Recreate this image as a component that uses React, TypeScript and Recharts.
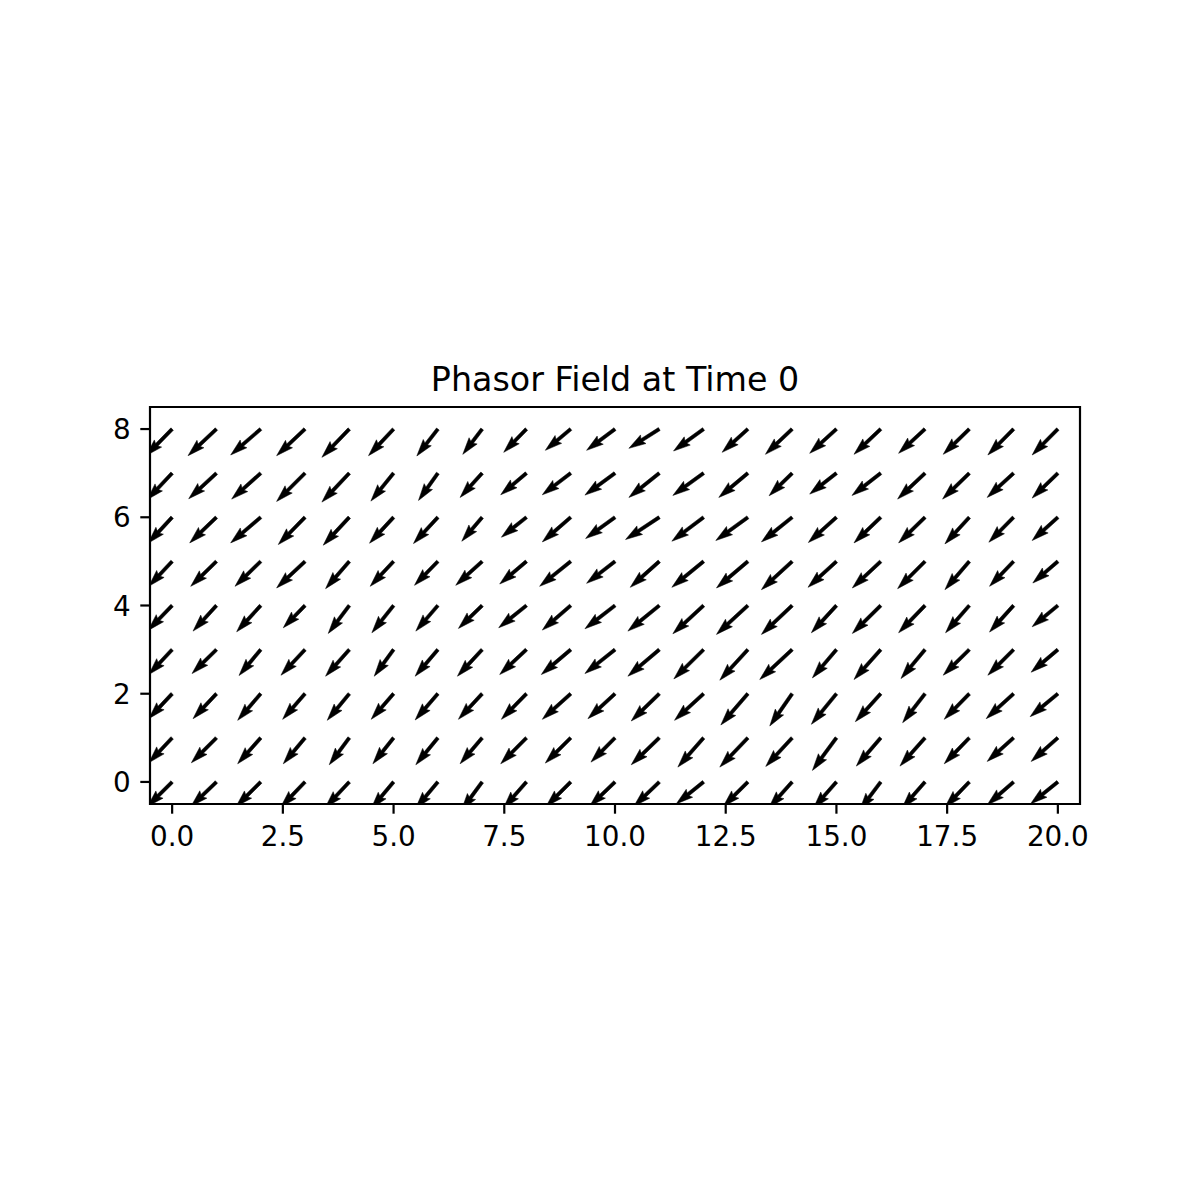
import { ScatterChart, Scatter, XAxis, YAxis, ReferenceArea } from "recharts";

// grid of phasor positions
const xValues = [0, 1, 2, 3, 4, 5, 6, 7, 8, 9, 10, 11, 12, 13, 14, 15, 16, 17, 18, 19, 20];
const yValues = [0, 1, 2, 3, 4, 5, 6, 7, 8];
const xTicks = [0, 2.5, 5, 7.5, 10, 12.5, 15, 17.5, 20];
const yTicks = [0, 2, 4, 6, 8];

// horizontal component, one list per row (y = 0 .. 8)
const u0 = [-0.74, -0.76, -0.74, -0.73, -0.72, -0.67, -0.67, -0.62, -0.69, -0.74, -0.76, -0.76, -0.82, -0.74, -0.70, -0.69, -0.63, -0.69, -0.73, -0.79, -0.82];
const u1 = [-0.70, -0.75, -0.69, -0.65, -0.60, -0.62, -0.66, -0.66, -0.77, -0.76, -0.72, -0.84, -0.77, -0.84, -0.79, -0.72, -0.73, -0.75, -0.75, -0.79, -0.80];
const u2 = [-0.70, -0.70, -0.69, -0.67, -0.66, -0.67, -0.68, -0.71, -0.75, -0.85, -0.81, -0.84, -0.87, -0.81, -0.67, -0.75, -0.76, -0.67, -0.75, -0.82, -0.83];
const u3 = [-0.70, -0.73, -0.65, -0.72, -0.71, -0.58, -0.68, -0.74, -0.80, -0.88, -0.90, -0.94, -0.89, -0.84, -0.97, -0.72, -0.80, -0.72, -0.78, -0.77, -0.80];
const u4 = [-0.72, -0.70, -0.72, -0.65, -0.63, -0.65, -0.66, -0.71, -0.83, -0.85, -0.90, -0.94, -0.92, -0.94, -0.92, -0.75, -0.85, -0.79, -0.71, -0.72, -0.77];
const u5 = [-0.70, -0.77, -0.77, -0.85, -0.71, -0.70, -0.70, -0.79, -0.80, -0.93, -0.85, -0.87, -0.95, -0.94, -0.92, -0.85, -0.85, -0.82, -0.73, -0.72, -0.75];
const u6 = [-0.72, -0.80, -0.90, -0.80, -0.78, -0.72, -0.73, -0.61, -0.75, -0.85, -0.88, -1.01, -0.95, -0.96, -0.92, -0.84, -0.80, -0.79, -0.73, -0.74, -0.77];
const u7 = [-0.75, -0.83, -0.87, -0.85, -0.82, -0.68, -0.58, -0.66, -0.77, -0.85, -0.90, -0.91, -0.92, -0.87, -0.69, -0.80, -0.86, -0.82, -0.80, -0.79, -0.77];
const u8 = [-0.78, -0.85, -0.90, -0.85, -0.82, -0.75, -0.63, -0.58, -0.68, -0.76, -0.85, -0.91, -0.90, -0.77, -0.80, -0.80, -0.80, -0.79, -0.78, -0.77, -0.77];

// vertical component, one list per row (y = 0 .. 8)
const v0 = [-0.74, -0.73, -0.74, -0.76, -0.77, -0.80, -0.80, -0.85, -0.79, -0.74, -0.73, -0.73, -0.66, -0.74, -0.78, -0.79, -0.84, -0.79, -0.76, -0.69, -0.66];
const v1 = [-0.75, -0.75, -0.78, -0.78, -0.81, -0.78, -0.81, -0.78, -0.78, -0.76, -0.73, -0.81, -0.88, -0.88, -0.86, -0.98, -0.85, -0.85, -0.78, -0.71, -0.71];
const v2 = [-0.75, -0.75, -0.80, -0.77, -0.80, -0.77, -0.79, -0.77, -0.77, -0.77, -0.75, -0.82, -0.80, -0.94, -0.97, -0.92, -0.84, -0.87, -0.77, -0.75, -0.69];
const v3 = [-0.75, -0.72, -0.78, -0.77, -0.80, -0.80, -0.80, -0.80, -0.75, -0.75, -0.72, -0.80, -0.88, -0.92, -0.90, -0.85, -0.90, -0.87, -0.77, -0.77, -0.68];
const v4 = [-0.75, -0.77, -0.79, -0.67, -0.84, -0.82, -0.77, -0.69, -0.67, -0.74, -0.70, -0.77, -0.85, -0.87, -0.87, -0.82, -0.84, -0.82, -0.82, -0.80, -0.64];
const v5 = [-0.75, -0.75, -0.75, -0.80, -0.82, -0.75, -0.72, -0.72, -0.68, -0.75, -0.66, -0.78, -0.78, -0.80, -0.85, -0.78, -0.80, -0.82, -0.85, -0.75, -0.65];
const v6 = [-0.78, -0.77, -0.77, -0.82, -0.84, -0.78, -0.79, -0.72, -0.60, -0.74, -0.64, -0.67, -0.72, -0.70, -0.74, -0.76, -0.77, -0.77, -0.80, -0.75, -0.70];
const v7 = [-0.80, -0.77, -0.78, -0.85, -0.87, -0.84, -0.82, -0.73, -0.65, -0.65, -0.66, -0.73, -0.67, -0.73, -0.68, -0.63, -0.67, -0.78, -0.78, -0.73, -0.75];
const v8 = [-0.80, -0.80, -0.78, -0.80, -0.85, -0.80, -0.81, -0.76, -0.70, -0.64, -0.64, -0.58, -0.66, -0.70, -0.76, -0.73, -0.76, -0.73, -0.76, -0.78, -0.78];

const uRows = [u0, u1, u2, u3, u4, u5, u6, u7, u8];
const vRows = [v0, v1, v2, v3, v4, v5, v6, v7, v8];

const data = yValues.flatMap((y, r) =>
  xValues.map((x, c) => ({ x, y, u: uRows[r][c], v: vRows[r][c] }))
);

const FONT = "DejaVu Sans";
const W = 1200;
const H = 1200;
const MARGIN = { top: 407, right: 120, bottom: 356, left: 90 };
const Y_AXIS_W = 60;
const X_AXIS_H = 40;
const X_DOMAIN: [number, number] = [-0.5, 20.5];
const Y_DOMAIN: [number, number] = [-0.5, 8.5];
const PLOT_W = W - MARGIN.left - MARGIN.right - Y_AXIS_W;
const PLOT_H = H - MARGIN.top - MARGIN.bottom - X_AXIS_H;
const PX_X = PLOT_W / (X_DOMAIN[1] - X_DOMAIN[0]);
const PX_Y = PLOT_H / (Y_DOMAIN[1] - Y_DOMAIN[0]);
const ARROW_SCALE = 0.754; // data units per vector unit
const SHAFT = 3.4;

const Arrow = (props: any) => {
  const { cx, cy, payload } = props;
  if (cx == null || cy == null) return <g />;
  const dx = payload.u * ARROW_SCALE * PX_X;
  const dy = -payload.v * ARROW_SCALE * PX_Y;
  const L = Math.hypot(dx, dy);
  const ca = dx / L;
  const sa = dy / L;
  const w = SHAFT;
  const local: [number, number][] = [
    [0, -w / 2],
    [L - 4.5 * w, -w / 2],
    [L - 5 * w, -1.5 * w],
    [L, 0],
    [L - 5 * w, 1.5 * w],
    [L - 4.5 * w, w / 2],
    [0, w / 2],
  ];
  const pts = local
    .map(([a, b]) => `${cx + a * ca - b * sa},${cy + a * sa + b * ca}`)
    .join(" ");
  return <polygon points={pts} fill="#000" stroke="#000" strokeWidth={0.5} />;
};

const XTick = (props: any) => {
  const { x, y, payload } = props;
  return (
    <text x={x} y={y + 32} textAnchor="middle" fontFamily={FONT} fontSize={27.8} fill="#000">
      {Number(payload.value).toFixed(1)}
    </text>
  );
};

const YTick = (props: any) => {
  const { x, y, payload } = props;
  return (
    <text x={x - 9.7} y={y + 10} textAnchor="end" fontFamily={FONT} fontSize={27.8} fill="#000">
      {payload.value}
    </text>
  );
};

export default function App() {
  return (
    <div style={{ position: "absolute", left: 0, top: 0, width: W, height: H, background: "#fff" }}>
      <svg width={W} height={H} style={{ position: "absolute", left: 0, top: 0 }}>
        <text x={615} y={391} textAnchor="middle" fontFamily={FONT} fontSize={33.3} fill="#000">
          Phasor Field at Time 0
        </text>
      </svg>
      <div style={{ position: "absolute", left: 0, top: 0 }}>
        <ScatterChart width={W} height={H} margin={MARGIN}>
          <XAxis
            type="number"
            dataKey="x"
            domain={X_DOMAIN}
            allowDataOverflow
            ticks={xTicks}
            height={X_AXIS_H}
            axisLine={false}
            tickSize={9.7}
            tickMargin={0}
            tickLine={{ stroke: "#000", strokeWidth: 2.2 }}
            tick={<XTick />}
          />
          <YAxis
            type="number"
            dataKey="y"
            domain={Y_DOMAIN}
            allowDataOverflow
            ticks={yTicks}
            width={Y_AXIS_W}
            axisLine={false}
            tickSize={9.7}
            tickMargin={0}
            tickLine={{ stroke: "#000", strokeWidth: 2.2 }}
            tick={<YTick />}
          />
          <Scatter data={data} shape={<Arrow />} isAnimationActive={false} />
          <ReferenceArea
            x1={X_DOMAIN[0]}
            x2={X_DOMAIN[1]}
            y1={Y_DOMAIN[0]}
            y2={Y_DOMAIN[1]}
            fill="none"
            fillOpacity={0}
            stroke="#000"
            strokeWidth={2.2}
          />
        </ScatterChart>
      </div>
    </div>
  );
}
